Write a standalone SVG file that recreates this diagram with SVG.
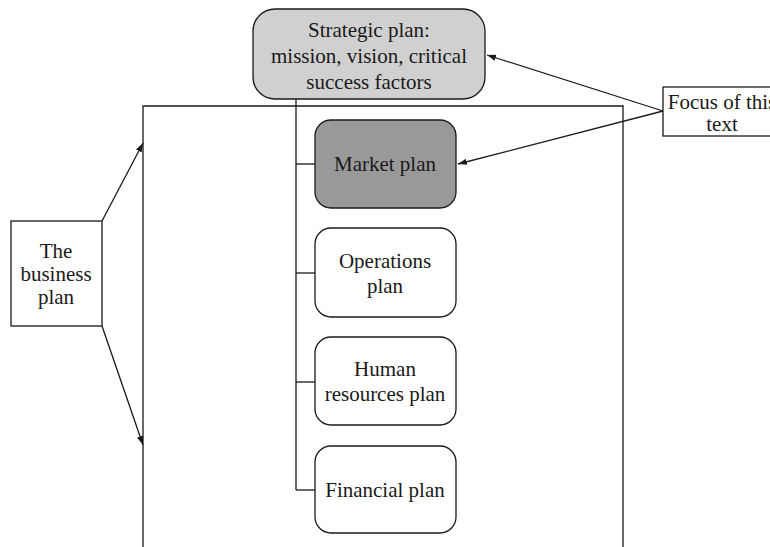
<svg xmlns="http://www.w3.org/2000/svg" width="770" height="547" viewBox="0 0 770 547">
<defs>
<style>
.box{stroke:#1a1a1a;stroke-width:1.3}
.t{font-family:"Liberation Serif","DejaVu Serif",serif;font-size:21px;fill:#1a1a1a;text-anchor:middle}
.ln{stroke:#1a1a1a;stroke-width:1.3;fill:none}
</style>
<marker id="ah" viewBox="0 0 10 10" refX="10" refY="5" markerWidth="9" markerHeight="9" orient="auto-start-reverse" markerUnits="userSpaceOnUse">
<path d="M0,1.5 L10,5 L0,8.5 Z" fill="#1a1a1a"/>
</marker>
</defs>
<rect width="770" height="547" fill="#fff"/>
<g id="business-plan-frame">
<polyline class="ln" points="143,547 143,106 623,106 623,547"/>
</g>
<g id="connectors">
<line class="ln" x1="296" y1="99" x2="296" y2="490"/>
<line class="ln" x1="296" y1="164" x2="315" y2="164"/>
<line class="ln" x1="296" y1="273" x2="315" y2="273"/>
<line class="ln" x1="296" y1="382" x2="315" y2="382"/>
<line class="ln" x1="296" y1="490" x2="315" y2="490"/>
<line class="ln" x1="663" y1="111" x2="487" y2="55" marker-end="url(#ah)"/>
<line class="ln" x1="663" y1="111" x2="458" y2="164" marker-end="url(#ah)"/>
<line class="ln" x1="102" y1="221" x2="143" y2="143" marker-end="url(#ah)"/>
<line class="ln" x1="102" y1="326" x2="143" y2="445" marker-end="url(#ah)"/>
</g>
<g id="strategic-plan">
<rect class="box" x="253" y="9" width="232" height="90" rx="22" fill="#d0d0d0"/>
<text class="t" x="369" y="37">Strategic plan:</text>
<text class="t" x="369" y="63">mission, vision, critical</text>
<text class="t" x="369" y="89">success factors</text>
</g>
<g id="market-plan">
<rect class="box" x="315" y="120" width="141" height="88" rx="16" fill="#999999"/>
<text class="t" x="385" y="171">Market plan</text>
</g>
<g id="operations-plan">
<rect class="box" x="315" y="228" width="141" height="89" rx="16" fill="#fff"/>
<text class="t" x="385" y="268">Operations</text>
<text class="t" x="385" y="293">plan</text>
</g>
<g id="human-resources-plan">
<rect class="box" x="315" y="337" width="141" height="88" rx="16" fill="#fff"/>
<text class="t" x="385" y="376">Human</text>
<text class="t" x="385" y="401">resources plan</text>
</g>
<g id="financial-plan">
<rect class="box" x="315" y="446" width="141" height="87" rx="16" fill="#fff"/>
<text class="t" x="385" y="497">Financial plan</text>
</g>
<g id="focus-of-this-text">
<rect class="box" x="663" y="87" width="118" height="49" fill="#fff"/>
<text class="t" x="722" y="109">Focus of this</text>
<text class="t" x="722" y="131">text</text>
</g>
<g id="the-business-plan">
<rect class="box" x="11" y="221" width="91" height="105" fill="#fff"/>
<text class="t" x="56" y="258">The</text>
<text class="t" x="56" y="281">business</text>
<text class="t" x="56" y="304">plan</text>
</g>
</svg>
